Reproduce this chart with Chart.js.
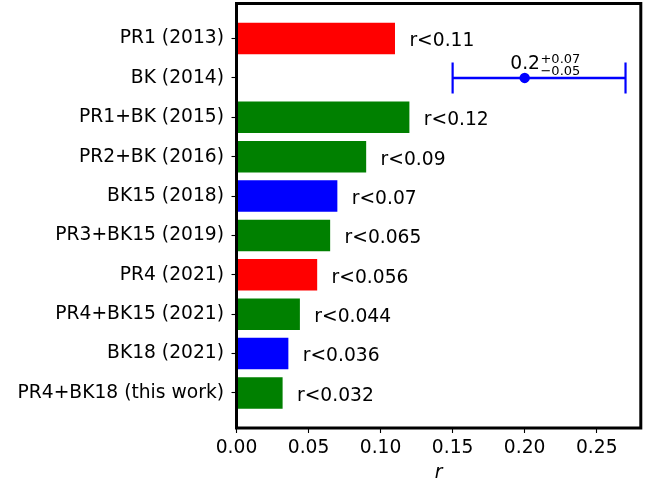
<!DOCTYPE html>
<html>
<head>
<meta charset="utf-8">
<script src="https://cdn.jsdelivr.net/npm/chart.js@4.4.1/dist/chart.umd.min.js"></script>
<style>
  html, body { margin: 0; padding: 0; background: #ffffff; }
  canvas { display: block; }
</style>
</head>
<body>
<canvas id="chart" width="647" height="481"></canvas>
<script>
// Experiments, top to bottom
const categories = [
  'PR1 (2013)', 'BK (2014)', 'PR1+BK (2015)', 'PR2+BK (2016)', 'BK15 (2018)',
  'PR3+BK15 (2019)', 'PR4 (2021)', 'PR4+BK15 (2021)', 'BK18 (2021)', 'PR4+BK18 (this work)'
];
// 95% upper limits on r (null where a detection is reported instead)
const upperLimits = [0.11, null, 0.12, 0.09, 0.07, 0.065, 0.056, 0.044, 0.036, 0.032];
const barColors = ['red', null, 'green', 'green', 'blue', 'green', 'red', 'green', 'blue', 'green'];
// BK (2014) measurement with asymmetric errors
const detectionIndex = 1;
const detectionValue = 0.2;
const detectionPlus = 0.07;
const detectionMinus = 0.05;
const detectionLabel = ['0.2', '+0.07', '\u22120.05'];
const xTickValues = [0, 0.05, 0.10, 0.15, 0.20, 0.25];

const FONT = '"DejaVu Sans", sans-serif';
const FS = 18.7;
const X_MAX = 0.2806;
const Y_MIN = -0.89, Y_MAX = categories.length - 1 + 0.89;

const barData = [];
const barBg = [];
upperLimits.forEach((v, i) => {
  if (v !== null) { barData.push({ x: v, y: i }); barBg.push(barColors[i]); }
});

const errorSpan = [
  { x: detectionValue - detectionMinus, y: detectionIndex },
  { x: detectionValue + detectionPlus, y: detectionIndex }
];

const annotate = {
  id: 'annotate',
  afterDatasetsDraw(chart) {
    const { ctx, scales: { x, y } } = chart;
    ctx.save();
    ctx.fillStyle = '#000';
    ctx.textAlign = 'left';
    ctx.textBaseline = 'alphabetic';
    ctx.font = FS + 'px ' + FONT;
    // limit labels just right of each bar
    upperLimits.forEach((v, i) => {
      if (v === null) return;
      ctx.fillText('r<' + v, x.getPixelForValue(v + 0.01), y.getPixelForValue(i) + 7.9);
    });
    // measured value with super/subscript errors
    const bx = x.getPixelForValue(detectionValue - 0.01);
    const by = y.getPixelForValue(detectionIndex) - 8.8;
    ctx.fillText(detectionLabel[0], bx, by);
    const w = ctx.measureText(detectionLabel[0]).width;
    ctx.font = '13px ' + FONT;
    ctx.fillText(detectionLabel[1], bx + w + 0.5, by - 6.6);
    ctx.fillText(detectionLabel[2], bx + w + 0.5, by + 5.8);
    // axis title
    ctx.font = 'italic ' + FS + 'px ' + FONT;
    ctx.textAlign = 'center';
    const a = chart.chartArea;
    ctx.fillText('r', (a.left + a.right) / 2, 478);
    ctx.restore();
  },
  afterDraw(chart) {
    const { ctx, chartArea: a } = chart;
    ctx.save();
    ctx.strokeStyle = '#000';
    ctx.lineWidth = 3;
    ctx.strokeRect(a.left, a.top, a.right - a.left, a.bottom - a.top);
    ctx.restore();
  }
};

function noPadding(s) {
  s.paddingTop = 0; s.paddingBottom = 0; s.paddingLeft = 0; s.paddingRight = 0;
}

new Chart(document.getElementById('chart'), {
  type: 'bar',
  data: {
    datasets: [
      {
        type: 'bar',
        data: barData,
        backgroundColor: barBg,
        borderWidth: 0,
        categoryPercentage: 1,
        barPercentage: 0.8,
        order: 3
      },
      {
        type: 'line',
        data: errorSpan,
        borderColor: 'blue',
        borderWidth: 2.6,
        pointStyle: 'line',
        pointRotation: 90,
        pointRadius: 15.5,
        pointBorderWidth: 2.2,
        pointBorderColor: 'blue',
        pointBackgroundColor: 'blue',
        order: 2
      },
      {
        type: 'line',
        data: [{ x: detectionValue, y: detectionIndex }],
        showLine: false,
        pointStyle: 'circle',
        pointRadius: 5.2,
        pointBorderWidth: 0,
        pointBackgroundColor: 'blue',
        order: 1
      }
    ]
  },
  options: {
    indexAxis: 'y',
    responsive: false,
    animation: false,
    events: [],
    layout: { autoPadding: false, padding: { left: 0, right: 6.2, top: 3.5, bottom: 0 } },
    plugins: { legend: { display: false }, tooltip: { enabled: false } },
    scales: {
      x: {
        type: 'linear',
        position: 'bottom',
        min: 0,
        max: X_MAX,
        offset: false,
        afterBuildTicks: (s) => { s.ticks = xTickValues.map(v => ({ value: v })); },
        afterFit: (s) => { s.height = 53; noPadding(s); },
        border: { display: false },
        grid: { offset: false, drawOnChartArea: false, drawTicks: true, tickLength: 5, tickColor: '#000', tickWidth: 1.1 },
        ticks: {
          color: '#000',
          font: { family: FONT, size: FS },
          padding: 4,
          maxRotation: 0,
          autoSkip: false,
          callback: (v) => Number(v).toFixed(2)
        }
      },
      y: {
        type: 'linear',
        position: 'left',
        reverse: true,
        offset: false,
        min: Y_MIN,
        max: Y_MAX,
        afterBuildTicks: (s) => { s.ticks = categories.map((_, i) => ({ value: i })); },
        afterFit: (s) => { s.width = 236.5; noPadding(s); },
        border: { display: false },
        grid: { offset: false, drawOnChartArea: false, drawTicks: true, tickLength: 5, tickColor: '#000', tickWidth: 1.1 },
        ticks: {
          color: '#000',
          font: { family: FONT, size: FS },
          padding: 7.5,
          autoSkip: false,
          callback: (v) => categories[v]
        }
      }
    }
  },
  plugins: [annotate]
});
</script>
</body>
</html>
